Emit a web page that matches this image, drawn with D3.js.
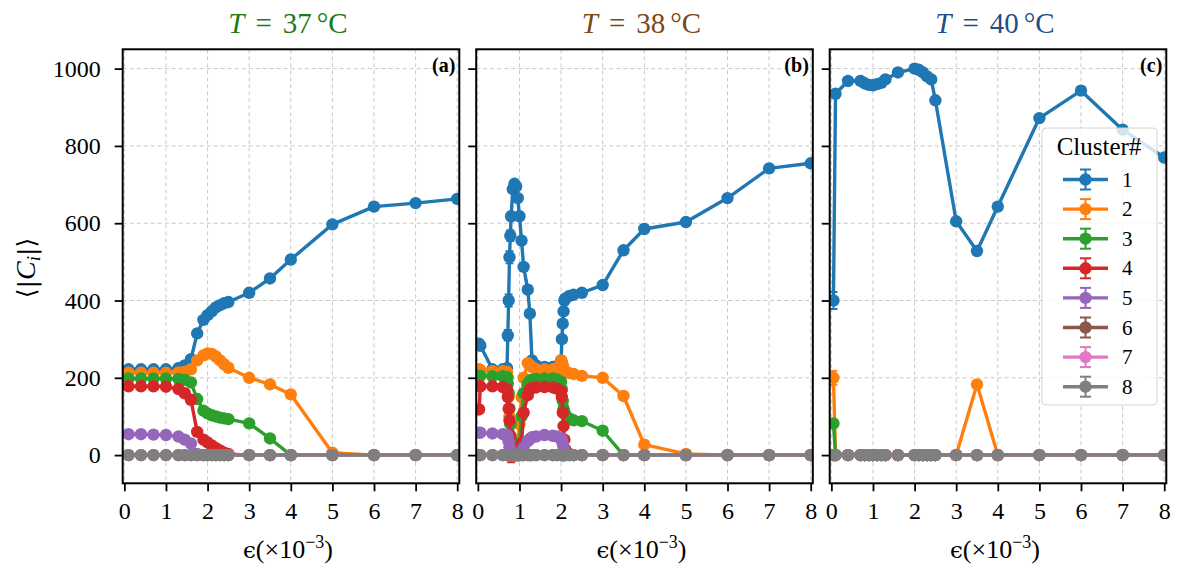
<!DOCTYPE html>
<html>
<head>
<meta charset="utf-8">
<script src="https://cdn.jsdelivr.net/npm/d3@7"></script>
<style>
body { margin: 0; background: #fff; }
text { font-family: "Liberation Serif", "DejaVu Serif", serif; }
</style>
</head>
<body>
<svg id="chart" width="1178" height="568"></svg>
<script>
// ---- data ----
var clusterLabels = ["1", "2", "3", "4", "5", "6", "7", "8"];
var xTicks = [0, 1, 2, 3, 4, 5, 6, 7, 8];
var yTicks = [0, 200, 400, 600, 800, 1000];
var temps = ["37", "38", "40"];
var tags = ["(a)", "(b)", "(c)"];

// panel (a), T = 37
var xA = [0.1, 0.4, 0.7, 1.0, 1.3, 1.45, 1.6, 1.75, 1.9, 2.0, 2.1, 2.2, 2.3, 2.4, 2.5, 3, 3.5, 4, 5, 6, 7, 8];
var a1 = [222, 222, 222, 222, 225, 232, 248, 315, 350, 362, 372, 382, 388, 393, 396, 420, 457, 506, 597, 643, 652, 663];
var a2 = [213, 213, 213, 213, 214, 216, 222, 245, 258, 263, 262, 255, 245, 235, 226, 200, 183, 157, 6, 0, 0, 0];
var a3 = [198, 198, 198, 198, 197, 195, 188, 145, 115, 108, 103, 100, 97, 95, 93, 82, 43, 0, 0, 0, 0, 0];
var a4 = [178, 178, 178, 177, 171, 160, 143, 60, 40, 33, 25, 18, 12, 6, 3, 0, 0, 0, 0, 0, 0, 0];
var a5 = [54, 54, 53, 52, 48, 40, 30, 3, 0, 0, 0, 0, 0, 0, 0, 0, 0, 0, 0, 0, 0, 0];
var zerosA = [0, 0, 0, 0, 0, 0, 0, 0, 0, 0, 0, 0, 0, 0, 0, 0, 0, 0, 0, 0, 0, 0];

// panel (b), T = 38
var xB = [0.03, 0.06, 0.35, 0.6, 0.7, 0.72, 0.74, 0.76, 0.78, 0.8,
          0.84, 0.88, 0.92, 0.96, 1.0, 1.05, 1.1, 1.2, 1.25, 1.3,
          1.4, 1.6, 1.8, 1.9, 2.0, 2.02, 2.04, 2.06, 2.08, 2.1,
          2.2, 2.3, 2.5, 3, 3.5, 4, 5, 6, 7, 8];
var b1 = [288, 283, 222, 222, 225, 310, 400, 512, 568, 618,
          688, 702, 695, 665, 618, 555, 487, 428, 366, 245,
          232, 228, 228, 230, 245, 300, 340, 372, 400, 405,
          412, 415, 420, 440, 530, 585, 603, 665, 742, 755];
var b2 = [222, 220, 217, 217, 215, 200, 150, 100, 50, 10,
          0, 0, 10, 35, 80, 150, 200, 238, 232, 228,
          222, 222, 222, 225, 245, 240, 232, 225, 220, 215,
          212, 210, 205, 200, 153, 27, 3, 0, 0, 0];
var b3 = [205, 205, 204, 204, 202, 185, 160, 120, 80, 40,
          5, 0, 0, 0, 30, 100, 160, 185, 192, 195,
          197, 198, 198, 196, 190, 170, 140, 120, 110, 105,
          95, 90, 88, 63, 0, 0, 0, 0, 0, 0];
var b4 = [118, 178, 178, 176, 170, 150, 120, 90, 50, 5,
          0, 0, 0, 0, 0, 30, 110, 155, 170, 174,
          175, 176, 175, 172, 165, 150, 110, 75, 40, 15,
          3, 0, 0, 0, 0, 0, 0, 0, 0, 0];
var b5 = [58, 58, 56, 54, 52, 45, 35, 20, 8, 0,
          0, 0, 0, 0, 0, 5, 20, 36, 42, 46,
          48, 52, 50, 48, 44, 38, 30, 20, 12, 5,
          0, 0, 0, 0, 0, 0, 0, 0, 0, 0];
var zerosB = [0, 0, 0, 0, 0, 0, 0, 0, 0, 0, 0, 0, 0, 0, 0, 0, 0, 0, 0, 0,
              0, 0, 0, 0, 0, 0, 0, 0, 0, 0, 0, 0, 0, 0, 0, 0, 0, 0, 0, 0];

// panel (c), T = 40
var xC = [0.05, 0.1, 0.4, 0.7, 0.8, 0.9, 1.0, 1.1, 1.2, 1.3, 1.6, 2.0, 2.1, 2.2, 2.3, 2.4, 2.5, 3, 3.5, 4, 5, 6, 7, 8];
var c1 = [400, 935, 968, 968, 962, 958, 957, 960, 963, 972, 990, 1000, 997, 990, 980, 972, 918, 605, 528, 643, 872, 943, 842, 770];
var c2 = [200, 0, 0, 0, 0, 0, 0, 0, 0, 0, 0, 0, 0, 0, 0, 0, 0, 0, 183, 0, 0, 0, 0, 0];
var c3 = [82, 0, 0, 0, 0, 0, 0, 0, 0, 0, 0, 0, 0, 0, 0, 0, 0, 0, 0, 0, 0, 0, 0, 0];
var zerosC = [0, 0, 0, 0, 0, 0, 0, 0, 0, 0, 0, 0, 0, 0, 0, 0, 0, 0, 0, 0, 0, 0, 0, 0];

// error bars: [cluster index, point index, half-length]
var errB = [[0, 4, 10], [0, 5, 14], [0, 6, 16], [0, 7, 16], [0, 8, 14], [0, 9, 10],
            [3, 8, 15], [3, 9, 24]];
var errC = [[0, 0, 22], [1, 0, 18], [2, 0, 10]];

var panels = [
    {xs: xA, series: [a1, a2, a3, a4, a5, zerosA, zerosA, zerosA], errs: []},
    {xs: xB, series: [b1, b2, b3, b4, b5, zerosB, zerosB, zerosB], errs: errB},
    {xs: xC, series: [c1, c2, c3, zerosC, zerosC, zerosC, zerosC, zerosC], errs: errC}
];

// ---- layout ----
var colors = ["#1f77b4", "#ff7f0e", "#2ca02c", "#d62728", "#9467bd", "#8c564b", "#e377c2", "#7f7f7f"];
var titleColors = ["#1c7a1c", "#7b4a14", "#1f4f86"];
var lefts = [122.7, 476.2, 829.7];
var W = 336.6, plotTop = 49.3, plotBottom = 483.3;
var serif = '"Liberation Serif", "DejaVu Serif", serif';
var R = 6.2, LW = 3.4;

var svg = d3.select("#chart");
var defs = svg.append("defs");

panels.forEach(function (p, k) {
    var left = lefts[k];
    var x = d3.scaleLinear().domain([-0.04, 8.05]).range([left, left + W]);
    var y = d3.scaleLinear().domain([-73, 1050]).range([plotBottom, plotTop]);
    var g = svg.append("g");

    defs.append("clipPath").attr("id", "clip" + k)
        .append("rect").attr("x", left).attr("y", plotTop).attr("width", W).attr("height", plotBottom - plotTop);

    // grid
    g.selectAll(".gx").data(xTicks).enter().append("line")
        .attr("x1", function (d) { return x(d); }).attr("x2", function (d) { return x(d); })
        .attr("y1", plotTop).attr("y2", plotBottom)
        .attr("stroke", "#c8c8c8").attr("stroke-width", 1).attr("stroke-dasharray", "4,3");
    g.selectAll(".gy").data(yTicks).enter().append("line")
        .attr("x1", left).attr("x2", left + W)
        .attr("y1", function (d) { return y(d); }).attr("y2", function (d) { return y(d); })
        .attr("stroke", "#c8c8c8").attr("stroke-width", 1).attr("stroke-dasharray", "4,3");

    // data
    var dg = g.append("g").attr("clip-path", "url(#clip" + k + ")");
    p.series.forEach(function (vals, i) {
        var pts = p.xs.map(function (xv, j) { return {x: xv, y: vals[j]}; });
        var line = d3.line().x(function (d) { return x(d.x); }).y(function (d) { return y(d.y); });
        var sg = dg.append("g");
        sg.append("path").attr("d", line(pts))
            .attr("fill", "none").attr("stroke", colors[i])
            .attr("stroke-width", LW).attr("stroke-linejoin", "round");
        p.errs.filter(function (e) { return e[0] === i; }).forEach(function (e) {
            var px = x(p.xs[e[1]]), v = vals[e[1]];
            sg.append("line").attr("x1", px).attr("x2", px)
                .attr("y1", y(v - e[2])).attr("y2", y(v + e[2]))
                .attr("stroke", colors[i]).attr("stroke-width", 1.8);
            [v - e[2], v + e[2]].forEach(function (cv) {
                sg.append("line").attr("x1", px - 4).attr("x2", px + 4)
                    .attr("y1", y(cv)).attr("y2", y(cv))
                    .attr("stroke", colors[i]).attr("stroke-width", 1.8);
            });
        });
        sg.selectAll("circle").data(pts).enter().append("circle")
            .attr("cx", function (d) { return x(d.x); })
            .attr("cy", function (d) { return y(d.y); })
            .attr("r", R).attr("fill", colors[i]);
    });

    // axes
    var xAxis = d3.axisBottom(x).tickValues(xTicks).tickSize(8).tickPadding(11).tickFormat(d3.format("d"));
    var yAxis = d3.axisLeft(y).tickValues(yTicks).tickSize(8).tickPadding(14)
        .tickFormat(k === 0 ? d3.format("d") : function () { return ""; });
    var gx = g.append("g").attr("transform", "translate(0," + plotBottom + ")").call(xAxis);
    var gy = g.append("g").attr("transform", "translate(" + left + ",0)").call(yAxis);
    [gx, gy].forEach(function (ax) {
        ax.select(".domain").remove();
        ax.selectAll(".tick line").attr("stroke", "#000").attr("stroke-width", 1.8);
        ax.selectAll(".tick text").attr("fill", "#000")
            .style("font-family", serif).style("font-size", "24px");
    });

    // frame
    g.append("rect").attr("x", left).attr("y", plotTop).attr("width", W).attr("height", plotBottom - plotTop)
        .attr("fill", "none").attr("stroke", "#000").attr("stroke-width", 2);

    // panel tag
    g.append("text").attr("x", left + W - 4).attr("y", 72).attr("text-anchor", "end")
        .attr("font-size", 20).attr("font-weight", "bold").text(tags[k]);

    // title
    var t = svg.append("text").attr("x", left + W / 2 - 3).attr("y", 33)
        .attr("text-anchor", "middle").attr("font-size", 29).attr("fill", titleColors[k]);
    t.append("tspan").attr("font-style", "italic").text("T");
    t.append("tspan").attr("dx", 11).text("=");
    t.append("tspan").attr("dx", 11).text(temps[k]);
    t.append("tspan").attr("dx", 5).text("°C");

    // x label
    var xl = svg.append("text").attr("x", left + W / 2 - 3).attr("y", 558)
        .attr("text-anchor", "middle").attr("font-size", 26);
    xl.append("tspan").style("font-family", '"DejaVu Serif", serif').attr("font-size", 23).text("ϵ");
    xl.append("tspan").text("(×10");
    xl.append("tspan").attr("dy", -10).attr("font-size", 18).text("−3");
    xl.append("tspan").attr("dy", 10).text(")");

    // legend in last panel
    if (k === 2) {
        var lg = g.append("g");
        lg.append("rect").attr("x", 1042).attr("y", 128).attr("width", 115).attr("height", 277)
            .attr("rx", 4).attr("fill", "#fff").attr("fill-opacity", 0.8)
            .attr("stroke", "#d4d4d4").attr("stroke-width", 1);
        lg.append("text").attr("x", 1099).attr("y", 155).attr("text-anchor", "middle")
            .attr("font-size", 25).text("Cluster#");
        clusterLabels.forEach(function (lab, i) {
            var ly = 179.5 + i * 29.6;
            lg.append("line").attr("x1", 1063).attr("x2", 1108).attr("y1", ly).attr("y2", ly)
                .attr("stroke", colors[i]).attr("stroke-width", LW);
            lg.append("line").attr("x1", 1085.5).attr("x2", 1085.5).attr("y1", ly - 10).attr("y2", ly + 10)
                .attr("stroke", colors[i]).attr("stroke-width", 2);
            [ly - 10, ly + 10].forEach(function (cy) {
                lg.append("line").attr("x1", 1080).attr("x2", 1091).attr("y1", cy).attr("y2", cy)
                    .attr("stroke", colors[i]).attr("stroke-width", 2);
            });
            lg.append("circle").attr("cx", 1085.5).attr("cy", ly).attr("r", R).attr("fill", colors[i]);
            lg.append("text").attr("x", 1122).attr("y", ly + 7).attr("font-size", 21).text(lab);
        });
    }
});

// y label
var yl = svg.append("text").attr("transform", "translate(35,268) rotate(-90)")
    .attr("text-anchor", "middle").attr("font-size", 28);
yl.append("tspan").style("font-family", '"DejaVu Serif", serif').attr("font-size", 25).text("⟨|");
yl.append("tspan").attr("font-style", "italic").text("C");
yl.append("tspan").attr("font-style", "italic").attr("font-size", 19).attr("dy", 5).text("i");
yl.append("tspan").style("font-family", '"DejaVu Serif", serif').attr("font-size", 25).attr("dy", -5).text("|⟩");
</script>
</body>
</html>
